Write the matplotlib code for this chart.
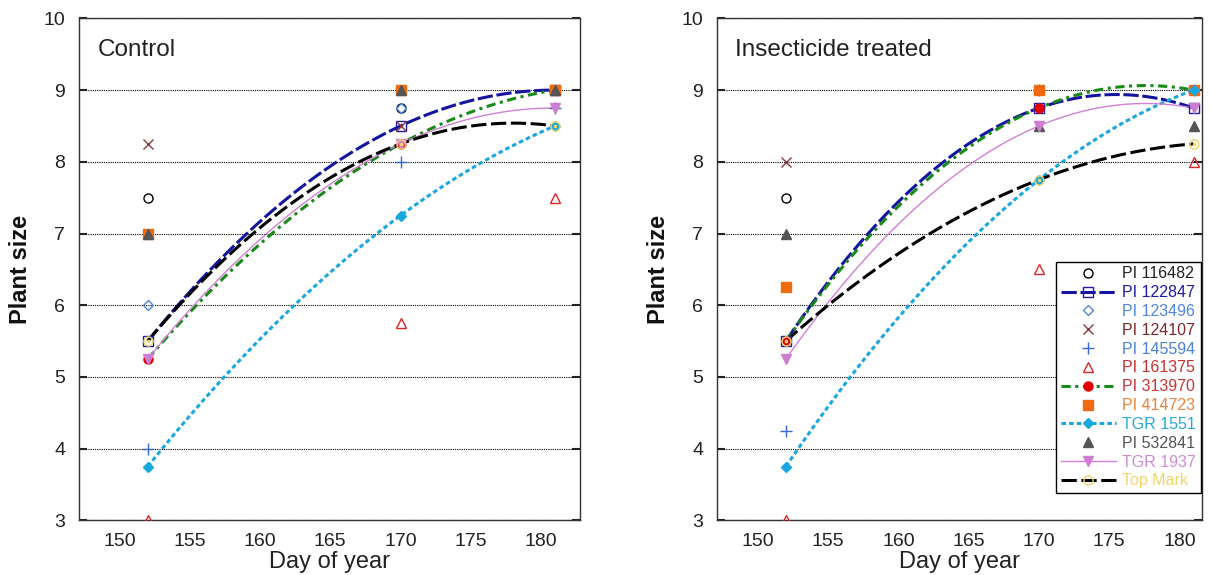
import numpy as np
import matplotlib.pyplot as plt
from matplotlib.lines import Line2D

plt.rcParams['font.family'] = ['Liberation Sans', 'DejaVu Sans']

days = [152, 170, 181]
day_ticks = [150, 155, 160, 165, 170, 175, 180]
size_ticks = [3, 4, 5, 6, 7, 8, 9, 10]

names = ['PI 116482', 'PI 122847', 'PI 123496', 'PI 124107', 'PI 145594',
         'PI 161375', 'PI 313970', 'PI 414723', 'TGR 1551', 'PI 532841',
         'TGR 1937', 'Top Mark']

# plant size per line, control plots
control = {
    'PI 116482': [7.5, 8.75, 9.0],
    'PI 122847': [5.5, 8.5, 9.0],
    'PI 123496': [6.0, 8.75, 9.0],
    'PI 124107': [8.25, 8.5, 9.0],
    'PI 145594': [4.0, 8.0, 8.75],
    'PI 161375': [3.0, 5.75, 7.5],
    'PI 313970': [5.25, 8.25, 9.0],
    'PI 414723': [7.0, 9.0, 9.0],
    'TGR 1551': [3.75, 7.25, 8.5],
    'PI 532841': [7.0, 9.0, 9.0],
    'TGR 1937': [5.25, 8.25, 8.75],
    'Top Mark': [5.5, 8.25, 8.5],
}

# plant size per line, insecticide treated plots
treated = {
    'PI 116482': [7.5, 9.0, 9.0],
    'PI 122847': [5.5, 8.75, 8.75],
    'PI 123496': [5.5, 9.0, 9.0],
    'PI 124107': [8.0, 9.0, 9.0],
    'PI 145594': [4.25, 9.0, 9.0],
    'PI 161375': [3.0, 6.5, 8.0],
    'PI 313970': [5.5, 8.75, 9.0],
    'PI 414723': [6.25, 9.0, 9.0],
    'TGR 1551': [3.75, 7.75, 9.0],
    'PI 532841': [7.0, 8.5, 8.5],
    'TGR 1937': [5.25, 8.5, 8.75],
    'Top Mark': [5.5, 7.75, 8.25],
}

# marker, face colour, edge colour, text colour, trend line style (None = no line)
styles = {
    'PI 116482': dict(marker='o', mfc='none', mec='black', tc='#222222', line=None),
    'PI 122847': dict(marker='s', mfc='none', mec='#1c1ca8', tc='#1c1ca8',
                      line=dict(color='#1414a0', lw=2.2, dashes=(5, 1.2))),
    'PI 123496': dict(marker='D', mfc='none', mec='#4f86e0', tc='#4f86e0', ms=5, line=None),
    'PI 124107': dict(marker='x', mfc='none', mec='#8a3b3b', tc='#7a2828', line=None),
    'PI 145594': dict(marker='+', mfc='none', mec='#3568d0', tc='#4a82d8', ms=9, line=None),
    'PI 161375': dict(marker='^', mfc='none', mec='#e02525', tc='#c83030', line=None),
    'PI 313970': dict(marker='o', mfc='#e00000', mec='#e00000', tc='#c83535',
                      line=dict(color='#178a17', lw=2.2, dashes=(3, 1.5, 1, 1.5))),
    'PI 414723': dict(marker='s', mfc='#f06a10', mec='#f06a10', tc='#e8843a', line=None),
    'TGR 1551': dict(marker='D', mfc='#1aa7e0', mec='#1aa7e0', tc='#2aa8d8', ms=5,
                     line=dict(color='#1aa7e0', lw=2.2, dashes=(1.5, 1))),
    'PI 532841': dict(marker='^', mfc='#555555', mec='#555555', tc='#555555', line=None),
    'TGR 1937': dict(marker='v', mfc='#cf7dd2', mec='#cf7dd2', tc='#d08ad8',
                     line=dict(color='#d27fd6', lw=1.0, ls='-')),
    'Top Mark': dict(marker='o', mfc='none', mec='#f2d468', tc='#f2d468',
                     line=dict(color='black', lw=2.2, dashes=(5, 1.5))),
}

fig = plt.figure(figsize=(12.14, 5.75), dpi=100)
ax1 = fig.add_axes([0.065, 0.095, 0.413, 0.873])
ax2 = fig.add_axes([0.5906, 0.095, 0.3995, 0.873])

grid_x = np.linspace(days[0], days[-1], 120)


def draw_panel(ax, data, title, xmax):
    for name in names:
        st = styles[name]
        vals = data[name]
        if st['line'] is not None:
            # quadratic trend through the three dates
            coef = np.polyfit(days, vals, 2)
            ax.plot(grid_x, np.polyval(coef, grid_x), zorder=3, **st['line'])
    for name in names:
        st = styles[name]
        ax.plot(days, data[name], ls='none', marker=st['marker'], mfc=st['mfc'],
                mec=st['mec'], ms=st.get('ms', 6.5), mew=1.0, zorder=4)
    # centre dot of the Top Mark symbol
    ax.plot(days, data['Top Mark'], ls='none', marker='o', ms=1.6,
            color=styles['Top Mark']['mec'], zorder=4)

    ax.set_xlim(147.1, xmax)
    ax.set_ylim(3, 10)
    ax.set_xticks(day_ticks)
    ax.set_yticks(size_ticks)
    ax.tick_params(axis='x', length=0, pad=9, labelsize=14, colors='#222222')
    ax.tick_params(axis='y', direction='in', length=6, width=1.5, left=True,
                   right=True, labelsize=14, pad=10, colors='#222222')
    ax.yaxis.grid(True, color='black', ls=(0, (1, 1)), lw=0.8)
    for sp in ax.spines.values():
        sp.set_color('#333333')
        sp.set_linewidth(1.0)
    ax.set_xlabel('Day of year', fontsize=17, color='#222222', labelpad=1)
    ax.set_ylabel('Plant size', fontsize=17, fontweight='bold', color='#111111',
                  labelpad=8)
    ax.text(0.038, 0.958, title, transform=ax.transAxes, ha='left', va='top',
            fontsize=17.5, color='#222222')


draw_panel(ax1, control, 'Control', 182.8)
draw_panel(ax2, treated, 'Insecticide treated', 181.6)

handles = []
for name in names:
    st = styles[name]
    line = st['line'] or dict(ls='none')
    handles.append(Line2D([], [], marker=st['marker'], mfc=st['mfc'], mec=st['mec'],
                          ms=st.get('ms', 6.5), mew=1.0, **line))
leg = ax2.legend(handles, names, loc='lower right', bbox_to_anchor=(0.997, 0.054),
                 borderaxespad=0, fontsize=11.5, labelspacing=0.24, handlelength=3.4,
                 handletextpad=0.4, borderpad=0.3, fancybox=False, framealpha=1,
                 edgecolor='black')
leg.get_frame().set_linewidth(1.0)
for txt, name in zip(leg.get_texts(), names):
    txt.set_color(styles[name]['tc'])

fig.savefig('out.png', dpi=100)
